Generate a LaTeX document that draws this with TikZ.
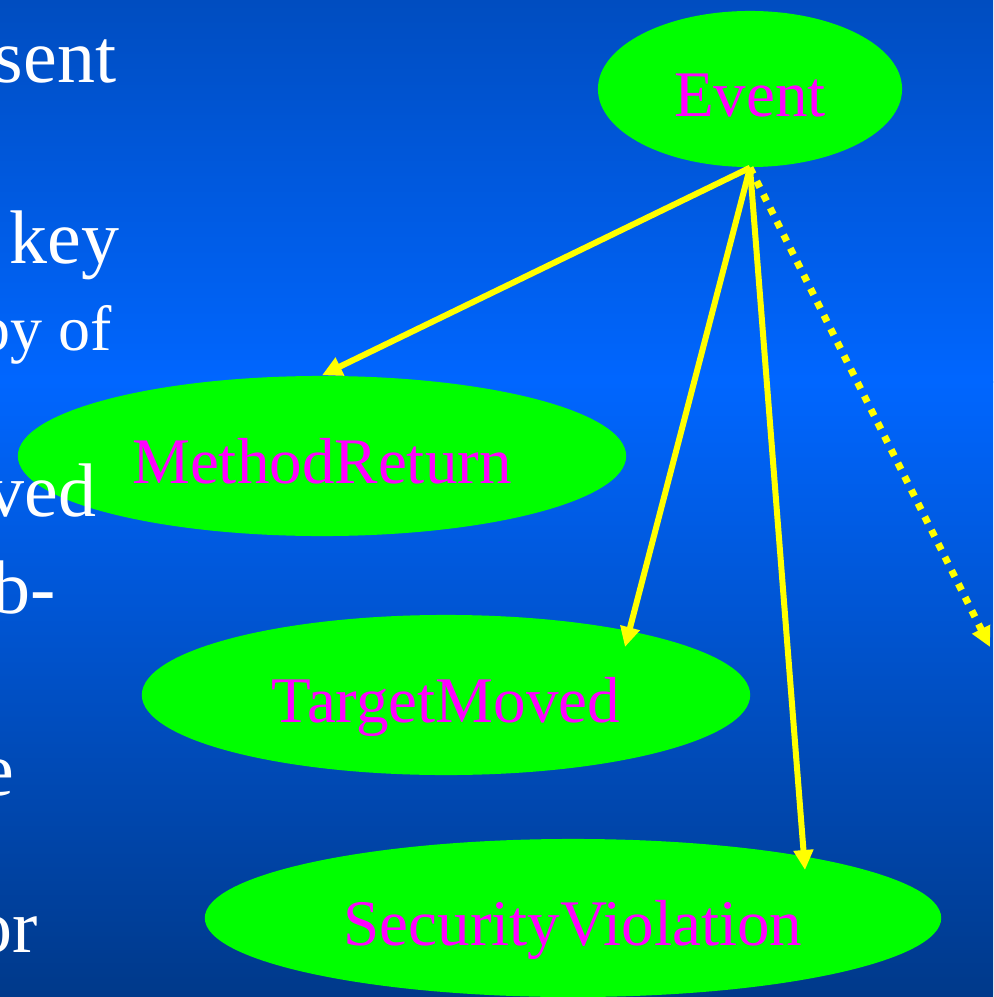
\documentclass[tikz,border=0pt]{standalone}
\usepackage{fontspec}
\setmainfont{Liberation Serif}
\usepackage{tikz}
\usetikzlibrary{arrows.meta,calc,shapes.geometric}
\definecolor{slidetop}{RGB}{0,77,192}
\definecolor{slidemid}{RGB}{0,102,255}
\definecolor{slidebot}{RGB}{0,57,138}
\definecolor{evtgreen}{RGB}{0,255,0}
\definecolor{evtpink}{RGB}{255,0,255}
\definecolor{linkyellow}{RGB}{255,255,0}
\tikzset{
    evt/.style={ellipse,fill=evtgreen,text=evtpink,inner sep=0pt,
        font=\fontsize{18.5}{22}\selectfont,text height=0.54cm,text depth=0cm},
    sub/.style={linkyellow,line width=0.06cm,-{Triangle[length=0.2cm,width=0.19cm]}},
    bullet/.style={text=white,anchor=base east,inner sep=0pt,
        font=\fontsize{21.6}{26}\selectfont},
    subbullet/.style={bullet,font=\fontsize{18.2}{22}\selectfont}
}

\begin{document}
\begin{tikzpicture}[x=0.01cm,y=-0.01cm]
            \useasboundingbox (0,0) rectangle (993,997);
            \clip (0,0) rectangle (993,997);
            \shade[top color=slidetop,bottom color=slidemid] (0,0) rectangle (993,382);
            \shade[top color=slidemid,bottom color=slidebot] (0,381) rectangle (993,997);

            \node[evt,minimum width=3.04cm,minimum height=1.56cm] (Event) at (750,89) {Event};
            \node[evt,minimum width=6.08cm,minimum height=1.6cm] (MethodReturn) at (322,456) {MethodReturn};
            \node[evt,minimum width=6.08cm,minimum height=1.6cm] (TargetMoved) at (446,695) {TargetMoved};
            \node[evt,minimum width=7.36cm,minimum height=1.58cm] (SecurityViolation) at (573,918) {SecurityViolation};
            \coordinate (offright) at (990,647);

            % slide text, cut at the left edge
            \node[bullet] (sent) at (117,83) {sent};
            \node[bullet] (key) at (120,263) {key};
            \node[subbullet] (pyof) at (113,350) {py of};
            \node[bullet] (ved) at (97,516) {ved};
            \node[bullet] (bdash) at (56,613) {b-};
            \node[bullet] (ee) at (15,795) {e};
            \node[bullet] (orr) at (38,952) {or};

            \draw[sub] (Event.south) -- (MethodReturn.north);
            \draw[sub] (Event.south) -- ($(TargetMoved)+(179,-48)$);
            \draw[sub] (Event.south) -- ($(SecurityViolation)+(232,-48)$);
            \draw[sub,line width=0.07cm,dash pattern=on 0.07cm off 0.08cm] (Event.south) -- (offright);
        \end{tikzpicture}
\end{document}
